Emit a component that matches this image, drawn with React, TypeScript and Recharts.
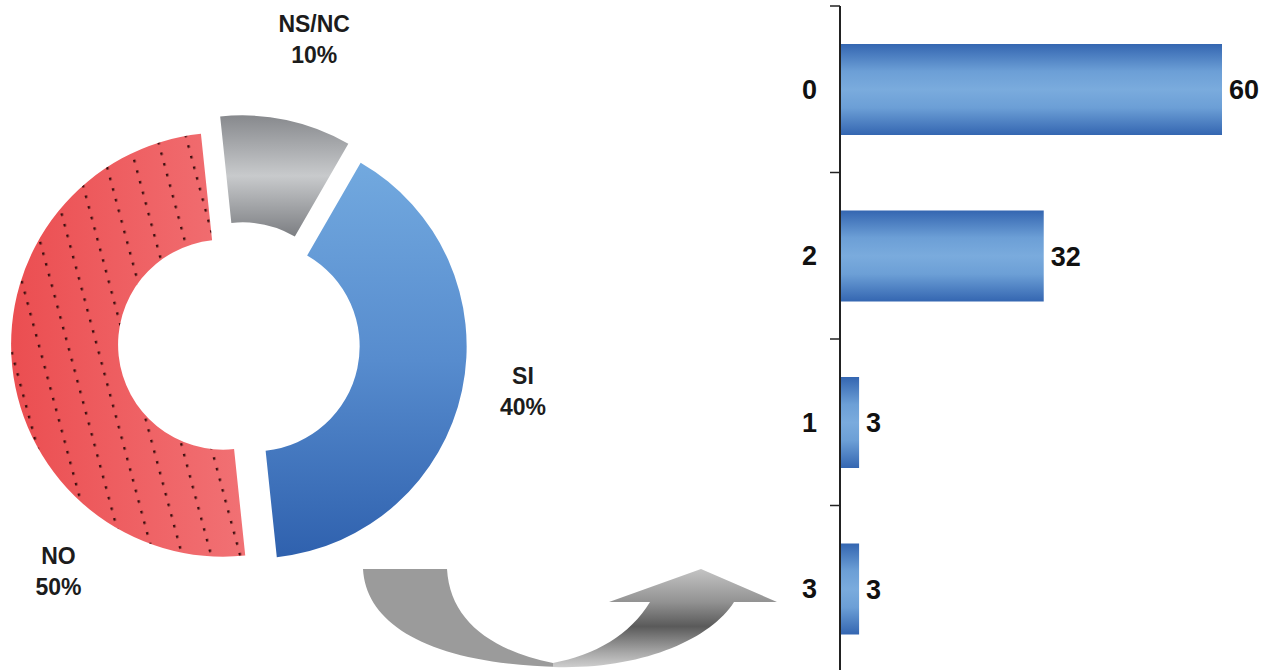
import React from "react";
import {
  PieChart,
  Pie,
  Cell,
  BarChart,
  Bar,
  XAxis,
  YAxis,
  LabelList,
} from "recharts";

// donut
const answers = ["NS/NC", "SI", "NO"];
const answerShares = [10, 40, 50];

// bars
const scoreCats = ["0", "2", "1", "3"];
const scoreCounts = [60, 32, 3, 3];

const pieData = answers.map((name, i) => ({ name, value: answerShares[i] }));
const barData = scoreCats.map((cat, i) => ({ cat, count: scoreCounts[i] }));

const FONT = "'Liberation Sans', Arial, sans-serif";
const START = 96;
const EXPLODE = 16;
const CX = 239;
const CY = 343;
const fills = ["url(#gNs)", "url(#gSi)", "url(#gNo)"];

// label placement per slice (radius from slice centre, angle)
const labelSpots = [
  { r: 297, angle: 76 },
  { r: 272, angle: -9.5 },
  { r: 280, angle: -126 },
];

const total = answerShares.reduce((a, b) => a + b, 0);
const offsets = (() => {
  let acc = 0;
  return answerShares.map((v) => {
    const mid = START - (360 * (acc + v / 2)) / total;
    acc += v;
    const rad = (mid * Math.PI) / 180;
    return { dx: EXPLODE * Math.cos(rad), dy: -EXPLODE * Math.sin(rad) };
  });
})();

const makeLabel = (only: number) => (props: any) => {
  const { cx, cy, index, name, value } = props;
  if (index !== only) return null;
  const spot = labelSpots[index];
  const a = (spot.angle * Math.PI) / 180;
  const x = cx + spot.r * Math.cos(a);
  const y = cy - spot.r * Math.sin(a);
  return (
    <text
      x={x}
      y={y}
      textAnchor="middle"
      fontFamily={FONT}
      fontWeight="bold"
      fontSize={23}
      fill="#1c1c1c"
    >
      <tspan x={x} dy={-7}>
        {name}
      </tspan>
      <tspan x={x} dy={31}>
        {Math.round((value / total) * 100)}%
      </tspan>
    </text>
  );
};

function Donut() {
  return (
    <PieChart width={560} height={670} margin={{ top: 0, right: 0, bottom: 0, left: 0 }}>
      <defs>
        <linearGradient id="gSi" x1="0" y1="0" x2="0" y2="1">
          <stop offset="0%" stopColor="#72a9df" />
          <stop offset="50%" stopColor="#578cce" />
          <stop offset="100%" stopColor="#2f61ae" />
        </linearGradient>
        <linearGradient id="gNs" x1="0" y1="0" x2="0" y2="1">
          <stop offset="0%" stopColor="#87898d" />
          <stop offset="50%" stopColor="#c8cacc" />
          <stop offset="100%" stopColor="#7c7e82" />
        </linearGradient>
        <linearGradient id="gNo" x1="0" y1="0" x2="1" y2="0">
          <stop offset="0%" stopColor="#eb4e51" />
          <stop offset="60%" stopColor="#ef6366" />
          <stop offset="100%" stopColor="#f17174" />
        </linearGradient>
        <pattern
          id="dots"
          patternUnits="userSpaceOnUse"
          width="28"
          height="11"
          patternTransform="rotate(-15)"
        >
          <rect x="3" y="2" width="2.4" height="2.6" fill="#3a0d0d" />
        </pattern>
      </defs>
      {answers.map((_, s) => (
        <Pie
          key={s}
          data={pieData}
          dataKey="value"
          nameKey="name"
          cx={CX + offsets[s].dx}
          cy={CY + offsets[s].dy}
          innerRadius={105}
          outerRadius={212}
          startAngle={START}
          endAngle={START - 360}
          stroke="none"
          labelLine={false}
          label={makeLabel(s)}
          isAnimationActive={false}
        >
          {pieData.map((_, i) => (
            <Cell key={i} fill={i === s ? fills[i] : "transparent"} />
          ))}
        </Pie>
      ))}
      {/* dotted overlay on NO */}
      <Pie
        data={pieData}
        dataKey="value"
        cx={CX + offsets[2].dx}
        cy={CY + offsets[2].dy}
        innerRadius={105}
        outerRadius={212}
        startAngle={START}
        endAngle={START - 360}
        stroke="none"
        isAnimationActive={false}
      >
        {pieData.map((_, i) => (
          <Cell key={i} fill={i === 2 ? "url(#dots)" : "transparent"} />
        ))}
      </Pie>
    </PieChart>
  );
}

const TICK_MARGIN = 23;
const PLOT_H = 666;

// category label plus a tick mark at the top edge of its band (Excel style)
const CatTick = (props: any) => {
  const { x, y, payload } = props;
  const half = payload.offset || PLOT_H / scoreCats.length / 2;
  const edge = x + TICK_MARGIN;
  return (
    <g>
      <text
        x={x}
        y={y}
        dy="0.36em"
        textAnchor="end"
        fontFamily={FONT}
        fontWeight="bold"
        fontSize={27}
        fill="#111"
      >
        {payload.value}
      </text>
      <line x1={edge - 10} x2={edge} y1={y - half} y2={y - half} stroke="#222" strokeWidth={1.5} />
    </g>
  );
};

function Scores() {
  return (
    <BarChart
      width={514}
      height={672}
      data={barData}
      layout="vertical"
      margin={{ top: 6, right: 52, bottom: 0, left: 0 }}
    >
      <defs>
        <linearGradient id="gBar" x1="0" y1="0" x2="0" y2="1">
          <stop offset="0%" stopColor="#3466b1" />
          <stop offset="30%" stopColor="#6c9fd6" />
          <stop offset="50%" stopColor="#7aabdd" />
          <stop offset="70%" stopColor="#6c9fd6" />
          <stop offset="100%" stopColor="#3466b1" />
        </linearGradient>
      </defs>
      <XAxis type="number" domain={[0, "dataMax"]} hide />
      <YAxis
        type="category"
        dataKey="cat"
        width={80}
        axisLine={{ stroke: "#222", strokeWidth: 2 }}
        tickLine={false}
        tickSize={0}
        tickMargin={TICK_MARGIN}
        tick={<CatTick />}
      />
      <Bar dataKey="count" fill="url(#gBar)" barSize={91} isAnimationActive={false}>
        <LabelList
          dataKey="count"
          position="right"
          offset={7}
          style={{ fontSize: 27, fontWeight: "bold", fill: "#111", fontFamily: FONT }}
        />
      </Bar>
    </BarChart>
  );
}

function Arrow() {
  return (
    <svg
      width={1274}
      height={670}
      style={{ position: "absolute", left: 0, top: 0, pointerEvents: "none" }}
    >
      <defs>
        <linearGradient id="gArrow" gradientUnits="userSpaceOnUse" x1="0" y1="569" x2="0" y2="668">
          <stop offset="0%" stopColor="#c4c4c4" />
          <stop offset="33%" stopColor="#939393" />
          <stop offset="58%" stopColor="#5a5a5a" />
          <stop offset="85%" stopColor="#a9a9a9" />
          <stop offset="100%" stopColor="#d0d0d0" />
        </linearGradient>
      </defs>
      <path
        d="M363,569 L447,569 C450,620 490,650 553,663 L560,667 C430,664 366,625 363,569 Z"
        fill="#9b9b9b"
      />
      <path
        d="M553,667 C640,670 710,640 734,602 L777,602 L701,569 L609,602 L650,602 C630,635 595,655 553,663 Z"
        fill="url(#gArrow)"
      />
    </svg>
  );
}

export default function App() {
  return (
    <div
      style={{
        position: "absolute",
        left: 0,
        top: 0,
        width: 1274,
        height: 670,
        overflow: "hidden",
        background: "#fff",
      }}
    >
      <div style={{ position: "absolute", left: 0, top: 0 }}>
        <Donut />
      </div>
      <div style={{ position: "absolute", left: 760, top: 0 }}>
        <Scores />
      </div>
      <Arrow />
    </div>
  );
}
